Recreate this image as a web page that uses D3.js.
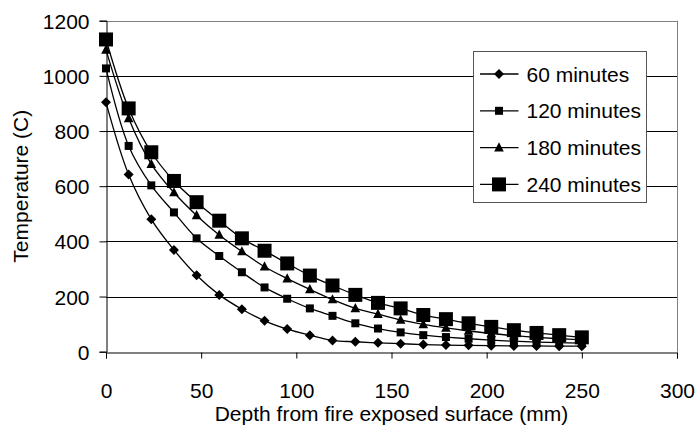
<!DOCTYPE html>
<html>
<head>
<meta charset="utf-8">
<script src="https://cdn.jsdelivr.net/npm/d3@7"></script>
<style>
  body { margin: 0; background: #fff; }
  svg { display: block; font-family: "Liberation Sans", Arial, sans-serif; }
</style>
</head>
<body>
<svg id="chart" width="697" height="428"></svg>
<script>
// depth (mm) of each measuring point
const depths = [0, 11.9, 23.8, 35.7, 47.6, 59.5, 71.4, 83.3, 95.2, 107.1, 119.0,
  131.0, 142.9, 154.8, 166.7, 178.6, 190.5, 202.4, 214.3, 226.2, 238.1, 250];

// temperatures (C) per exposure time
const temp60 = [904, 642, 480, 369, 277, 206, 154, 112, 82, 60, 41, 36, 32, 29, 26, 24, 23, 22, 21, 21, 20, 20];
const temp120 = [1027, 746, 603, 505, 411, 347, 288, 233, 192, 157, 130, 103, 84, 70, 60, 53, 47, 42, 38, 35, 33, 31];
const temp180 = [1094, 846, 680, 577, 494, 423, 363, 308, 265, 226, 189, 157, 136, 115, 99, 86, 75, 66, 58, 52, 47, 43];
const temp240 = [1132, 882, 723, 619, 542, 475, 411, 366, 320, 276, 240, 206, 177, 157, 133, 118, 103, 90, 78, 68, 60, 52];

const seriesNames = ["60 minutes", "120 minutes", "180 minutes", "240 minutes"];
const xTicks = [0, 50, 100, 150, 200, 250, 300];
const yTicks = [0, 200, 400, 600, 800, 1000, 1200];

const series = [
  { name: seriesNames[0], values: temp60, marker: "diamond" },
  { name: seriesNames[1], values: temp120, marker: "square" },
  { name: seriesNames[2], values: temp180, marker: "triangle" },
  { name: seriesNames[3], values: temp240, marker: "bigsquare" }
];

const svg = d3.select("#chart");
const fontSize = 21;

const x = d3.scaleLinear().domain([0, 300]).range([106, 677]);
const y = d3.scaleLinear().domain([0, 1200]).range([351.7, 20.7]);

// marker shapes
function markerPath(type) {
  if (type === "diamond") {
    const r = 5;
    return `M0,${-r}L${r},0L0,${r}L${-r},0Z`;
  }
  if (type === "square") {
    const h = 4;
    return `M${-h},${-h}H${h}V${h}H${-h}Z`;
  }
  if (type === "triangle") {
    const w = 4.8, t = 5.4, b = 3.8;
    return `M0,${-t}L${w},${b}L${-w},${b}Z`;
  }
  const h = 7;
  return `M${-h},${-h}H${h}V${h}H${-h}Z`;
}

// gridlines
svg.append("g")
  .selectAll("line")
  .data(yTicks.filter(d => d > 0))
  .join("line")
    .attr("x1", x(0)).attr("x2", x(300))
    .attr("y1", d => Math.round(y(d)) + 0.5)
    .attr("y2", d => Math.round(y(d)) + 0.5)
    .attr("stroke", d => d === 1200 ? "#808080" : "#000")
    .attr("stroke-width", 1);

// plot area right border
svg.append("line")
  .attr("x1", Math.round(x(300)) + 0.5).attr("x2", Math.round(x(300)) + 0.5)
  .attr("y1", y(1200)).attr("y2", y(0))
  .attr("stroke", "#808080");

// axes
const xAxis = d3.axisBottom(x).tickValues(xTicks).tickFormat(d3.format("d"))
  .tickSize(6).tickPadding(25);
const yAxis = d3.axisLeft(y).tickValues(yTicks).tickFormat(d3.format("d"))
  .tickSize(7).tickPadding(10);

const gx = svg.append("g")
  .attr("transform", `translate(0,${Math.round(y(0)) + 0.5})`)
  .call(xAxis);
const gy = svg.append("g")
  .attr("transform", `translate(${Math.round(x(0)) + 0.5},0)`)
  .call(yAxis);

[gx, gy].forEach(g => {
  g.selectAll("path").attr("stroke", "#000");
  g.selectAll("line").attr("stroke", "#000");
  g.selectAll("text")
    .attr("font-size", fontSize)
    .attr("font-family", "'Liberation Sans', Arial, sans-serif")
    .attr("fill", "#000");
});
gy.selectAll("text").attr("dy", "0.36em");
gx.selectAll("text").attr("dy", "0.71em");

// axis titles
svg.append("text")
  .attr("x", (x(0) + x(300)) / 2)
  .attr("y", 421)
  .attr("text-anchor", "middle")
  .attr("font-size", fontSize)
  .text("Depth from fire exposed surface (mm)");

svg.append("text")
  .attr("transform", `translate(28,${(y(0) + y(1200)) / 2}) rotate(-90)`)
  .attr("text-anchor", "middle")
  .attr("font-size", fontSize)
  .text("Temperature (C)");

// lines + markers
const line = d3.line()
  .x((d, i) => x(depths[i]))
  .y(d => y(d))
  .curve(d3.curveCatmullRom.alpha(0.5));

series.forEach(s => {
  const g = svg.append("g");
  g.append("path")
    .attr("d", line(s.values))
    .attr("fill", "none")
    .attr("stroke", "#000")
    .attr("stroke-width", 1.3);
  g.selectAll("path.marker")
    .data(s.values)
    .join("path")
      .attr("class", "marker")
      .attr("d", markerPath(s.marker))
      .attr("transform", (d, i) => `translate(${x(depths[i])},${y(d)})`)
      .attr("fill", "#000");
});

// legend
const legend = svg.append("g").attr("transform", "translate(473.5,51.5)");
legend.append("rect")
  .attr("width", 173).attr("height", 151)
  .attr("fill", "#fff")
  .attr("stroke", "#555");

const item = legend.selectAll("g.item")
  .data(series)
  .join("g")
    .attr("class", "item")
    .attr("transform", (d, i) => `translate(0,${22.5 + i * 36.8})`);

item.append("line")
  .attr("x1", 6.5).attr("x2", 45)
  .attr("stroke", "#000").attr("stroke-width", 1.3);
item.append("path")
  .attr("d", d => markerPath(d.marker))
  .attr("transform", "translate(25.5,0)")
  .attr("fill", "#000");
item.append("text")
  .attr("x", 53)
  .attr("dy", "0.36em")
  .attr("font-size", fontSize)
  .text(d => d.name);
</script>
</body>
</html>
